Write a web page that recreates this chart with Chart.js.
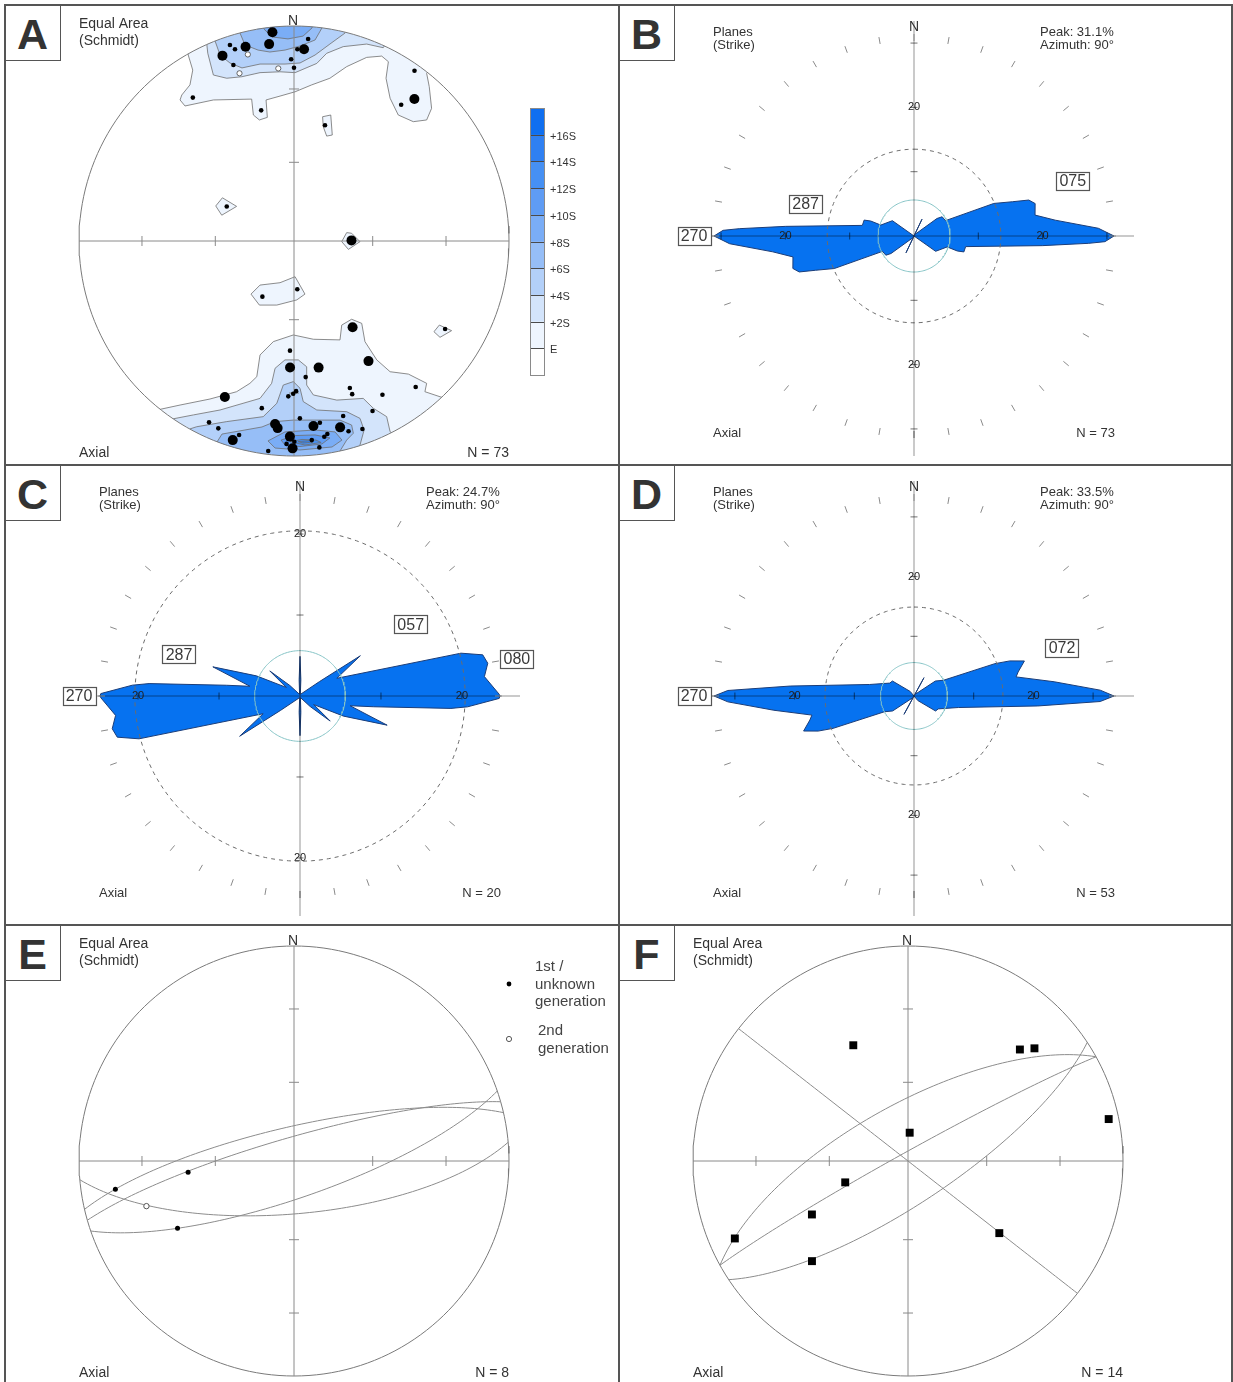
<!DOCTYPE html>
<html>
<head>
<meta charset="utf-8">
<title>Stereonets and rose diagrams</title>
<script src="https://cdn.jsdelivr.net/npm/chart.js@4.4.1/dist/chart.umd.min.js"></script>
<style>
  html, body { margin: 0; padding: 0; background: #fff; }
  #fig { position: relative; width: 1233px; height: 1382px; overflow: hidden; background: #fff; }
  .pane { position: absolute; width: 614px; height: 460px; }
  .pane canvas { position: absolute; left: 0; top: 0; }
  .tag { position: absolute; left: 0; top: 0; width: 55px; height: 55px;
         border-right: 1.5px solid #555; border-bottom: 1.5px solid #555; background: #fff;
         color: #333; font: bold 43px "Liberation Sans", Arial, sans-serif; text-align: center; line-height: 58px; }
  .rule { position: absolute; background: #555; }
</style>
</head>
<body>
<div id="fig">
  <div class="pane" style="left:5px;top:5px"><canvas id="cA" width="614" height="460"></canvas><div class="tag">A</div></div>
  <div class="pane" style="left:619px;top:5px"><canvas id="cB" width="614" height="460"></canvas><div class="tag">B</div></div>
  <div class="pane" style="left:5px;top:465px"><canvas id="cC" width="614" height="460"></canvas><div class="tag">C</div></div>
  <div class="pane" style="left:619px;top:465px"><canvas id="cD" width="614" height="460"></canvas><div class="tag">D</div></div>
  <div class="pane" style="left:5px;top:925px"><canvas id="cE" width="614" height="460"></canvas><div class="tag">E</div></div>
  <div class="pane" style="left:619px;top:925px"><canvas id="cF" width="614" height="460"></canvas><div class="tag">F</div></div>
  <div class="rule" style="left:4px;top:4px;width:1229px;height:1.5px"></div>
  <div class="rule" style="left:4px;top:464px;width:1229px;height:1.5px"></div>
  <div class="rule" style="left:4px;top:924px;width:1229px;height:1.5px"></div>
  <div class="rule" style="left:4px;top:4px;width:1.5px;height:1380px"></div>
  <div class="rule" style="left:618px;top:4px;width:1.5px;height:1380px"></div>
  <div class="rule" style="left:1231px;top:4px;width:1.5px;height:1380px"></div>
</div>
<script>
// ================= data =================

// Panel A - poles (trend / plunge in degrees, lower hemisphere)
const poleTrendA = [354.1, 352.8, 341.9, 342.9, 346.0, 338.9, 341.0, 3.0, 4.0, 1.0, 359.1, 0.0, 35.3, 40.3, 38.2, 324.8, 345.9, 15.0,
  297.2, 89.4, 209.6, 176.1, 120.2,
  145.8, 182.1, 148.2, 181.8, 169.0, 175.1, 140.2, 159.2, 159.2, 150.1, 203.9, 179.2, 180.3, 182.1, 190.9, 155.2, 205.1, 202.0, 178.1, 185.9,
  185.0, 174.0, 171.9, 164.3, 166.1, 164.0, 160.0, 181.2, 180.4, 182.1, 179.9, 174.9, 171.2, 170.2, 197.1, 195.8, 187.0, 173.0];
const polePlungeA = [2.7, 8.5, 4.6, 7.4, 7.6, 8.4, 14.5, 11.7, 6.5, 11.8, 16.6, 20.5, 3.4, 14.5, 20.5, 19.5, 37.4, 43.6,
  61.2, 68.2, 65.7, 71.7, 19.8,
  49.9, 47.7, 34.6, 40.8, 39.8, 36.6, 12.6, 27.7, 24.8, 18.6, 21.7, 30.8, 29.7, 28.5, 21.9, 14.0, 7.6, 6.7, 18.6, 15.5,
  13.7, 14.6, 15.7, 16.6, 11.7, 8.8, 7.7, 9.9, 4.0, 6.2, 7.4, 7.8, 8.7, 9.8, 3.5, 6.9, 1.8, 3.7];
// 1 = single measurement, 2 = coincident group
const poleGroupA = [2, 2, 1, 1, 2, 2, 1, 2, 1, 1, 1, 1, 1, 2, 1, 1, 1, 1,
  1, 2, 1, 1, 1,
  2, 1, 2, 2, 2, 1, 1, 1, 1, 1, 2, 1, 1, 1, 1, 1, 1, 1, 1, 2,
  2, 2, 1, 1, 2, 1, 1, 2, 2, 1, 1, 1, 1, 1, 2, 1, 1, 1];
const pole2TrendA = [342.0, 346.1, 354.8];
const pole2PlungeA = [19.1, 11.6, 20.5];
const countA = 73;

// Panel A - density levels (multiples of S above expected E) and contour rings
const densityLabels = ['E', '+2S', '+4S', '+6S', '+8S', '+10S', '+12S', '+14S', '+16S'];
const bandColors = ['#eef5fe', '#d3e4fb', '#b3d0f9', '#96bef7', '#7aadf6', '#5f9cf4', '#4690f3', '#2f80f2', '#0f6ff0'];
// [level index, flat list of x,y in projection units (primitive radius = 1)]
const ringsA = [
  [0, [-0.507,0.935, -0.492,0.865, -0.471,0.795, -0.484,0.726, -0.522,0.679, -0.530,0.656, -0.507,0.628, -0.375,0.656, -0.197,0.660,
       -0.189,0.586, -0.161,0.563, -0.124,0.575, -0.130,0.656, -0.065,0.674, 0.005,0.694, 0.082,0.726, 0.167,0.757, 0.245,0.811,
       0.338,0.854, 0.408,0.860, 0.439,0.834, 0.428,0.757, 0.447,0.664, 0.485,0.586, 0.555,0.555, 0.617,0.563, 0.640,0.617,
       0.629,0.718, 0.617,0.780, 0.679,0.865, 0,1.09]],
  [1, [-0.437,0.958, -0.406,0.919, -0.401,0.873, -0.375,0.772, -0.313,0.757, -0.243,0.764, -0.158,0.783, -0.065,0.787, 0.005,0.783,
       0.106,0.826, 0.152,0.873, 0.229,0.904, 0.338,0.916, 0.415,0.899, 0.470,0.981, 0,1.074]],
  [2, [-0.381,0.981, -0.367,0.930, -0.344,0.865, -0.298,0.828, -0.242,0.805, -0.158,0.823, -0.042,0.823, 0.028,0.828, 0.098,0.865,
       0.167,0.916, 0.237,0.967, 0.26,1.05, 0,1.09]],
  [3, [-0.26,1.03, -0.251,0.967, -0.228,0.912, -0.167,0.888, -0.112,0.879, -0.042,0.888, 0.028,0.907, 0.098,0.935, 0.130,0.991, 0.14,1.06, 0,1.09]],
  [4, [-0.149,1.03, -0.140,0.986, -0.102,0.949, -0.028,0.940, 0.042,0.953, 0.084,0.991, 0.09,1.05, 0,1.08]],
  [0, [0.133,0.578, 0.171,0.586, 0.178,0.493, 0.152,0.488, 0.136,0.532]],
  [0, [-0.364,0.163, -0.333,0.201, -0.267,0.161, -0.336,0.120]],
  [0, [0.222,-0.003, 0.245,0.039, 0.268,0.036, 0.307,-0.003, 0.253,-0.039]],
  [0, [-0.200,-0.247, -0.158,-0.205, -0.065,-0.194, 0.005,-0.166, 0.051,-0.247, 0.013,-0.274, -0.080,-0.298, -0.161,-0.298]],
  [0, [0.651,-0.422, 0.676,-0.391, 0.733,-0.417, 0.679,-0.448]],
  [0, [-0.716,-0.740, -0.623,-0.783, -0.530,-0.763, -0.391,-0.735, -0.267,-0.701, -0.205,-0.662, -0.173,-0.631, -0.158,-0.530,
       -0.096,-0.468, -0.003,-0.437, 0.090,-0.457, 0.214,-0.460, 0.222,-0.391, 0.268,-0.364, 0.315,-0.383, 0.330,-0.468,
       0.385,-0.553, 0.447,-0.608, 0.532,-0.619, 0.617,-0.662, 0.609,-0.701, 0.726,-0.740, 0.726,-1.03, -0.716,-1.03]],
  [1, [-0.600,-0.888, -0.567,-0.828, -0.468,-0.809, -0.344,-0.786, -0.158,-0.732, -0.104,-0.662, -0.088,-0.592, -0.042,-0.553,
       0.020,-0.553, 0.059,-0.585, 0.059,-0.670, 0.090,-0.716, 0.199,-0.740, 0.322,-0.732, 0.369,-0.778, 0.431,-0.817,
       0.447,-0.887, 0.493,-0.926, 0,-1.03, -0.6,-1.0]],
  [2, [-0.507,-0.949, -0.484,-0.874, -0.453,-0.864, -0.313,-0.840, -0.143,-0.817, -0.080,-0.755, -0.050,-0.670, -0.003,-0.654,
       0.028,-0.685, 0.043,-0.747, 0.106,-0.786, 0.245,-0.794, 0.307,-0.825, 0.326,-0.879, 0.307,-0.949, 0.307,-1.03, -0.507,-1.03]],
  [3, [-0.367,-0.972, -0.358,-0.935, -0.335,-0.898, -0.149,-0.865, -0.088,-0.840, -0.003,-0.833, 0.106,-0.833, 0.214,-0.833,
       0.268,-0.856, 0.276,-0.894, 0.245,-0.926, 0.214,-0.977, 0.214,-1.03, -0.367,-1.03]],
  [4, [-0.121,-0.930, -0.042,-0.888, 0.098,-0.879, 0.191,-0.888, 0.223,-0.926, 0.177,-0.958, 0.028,-0.972, -0.088,-0.963]],
  [5, [-0.060,-0.926, 0.005,-0.905, 0.098,-0.902, 0.167,-0.916, 0.130,-0.944, 0.028,-0.956, -0.042,-0.949]],
  [6, [-0.019,-0.933, 0.037,-0.923, 0.102,-0.926, 0.126,-0.937, 0.051,-0.949]],
  [7, [0.019,-0.933, 0.074,-0.928, 0.088,-0.935, 0.042,-0.940]]
];

// Panels B-D - strike roses (outline for 0-180 deg; axial data repeats at +180)
const roseAzB  = [0, 24, 25.5, 27, 52.7, 55.7, 64, 67.8, 70.8, 72.6, 75, 80.2, 83.6, 87.6, 90, 91.7, 92.4, 94.3, 101.6, 107.7, 109.1, 108.2, 125.3, 180];
const rosePctB = [0, 0.25, 2.9, 0.25, 4.5, 5.3, 5.45, 13.4, 16.2, 18.7, 19.5, 19.1, 22.1, 28.7, 31.1, 29.7, 27.2, 20.0, 8.2, 8.14, 7.11, 5.44, 4.12, 0];
const peakB = 31.1, peakAzB = 90, countB = 73, refPctB = 5.6, dashPctB = 13.5;
const tagTextB = ['270', '287', '075'];

const roseAzC  = [0, 3, 12, 53.5, 56.3, 64.3, 75.1, 77.3, 80.1, 84, 89.5, 90, 90.7, 93.7, 94.7, 98.3, 101, 108.5, 114.8, 122, 129.7, 136, 165, 177];
const rosePctC = [4.9, 2.0, 0.2, 3.0, 8.96, 5.05, 20.57, 23.13, 23.54, 22.9, 24.6, 24.7, 24.6, 20.74, 18.7, 9.2, 6.3, 11.35, 5.93, 2.0, 4.85, 1.8, 0.2, 2.0];
const peakC = 24.7, peakAzC = 90, countC = 20, refPctC = 5.6, dashPctC = 20.4;
const tagTextC = ['270', '287', '057', '080'];

const roseAzD  = [0, 27, 28.6, 30.5, 55, 61.9, 68.2, 69.9, 72.4, 77, 79.4, 84.2, 88.2, 90, 91.7, 94.6, 104.5, 118, 124.8, 140, 180];
const rosePctD = [0, 0.3, 3.5, 0.3, 4.37, 5.6, 14.6, 17.1, 19.4, 17.9, 17.4, 23.6, 31.2, 33.5, 31.2, 20.8, 7.7, 4.6, 4.4, 1.0, 0];
const peakD = 33.5, peakAzD = 90, countD = 53, refPctD = 5.6, dashPctD = 14.9;
const tagTextD = ['270', '072'];

// Panel E - planes (dip direction / dip) and lineations (trend / plunge)
const planeDipDirE = [347, 344, 175, 161];
const planeDipE = [77, 81, 70, 76];
const lin1TrendE = [261, 264, 240];
const lin1PlungeE = [17, 49, 37.5];
const lin2TrendE = [253];
const lin2PlungeE = [29];
const countE = 8;

// Panel F - planes and lineations
const planeDipDirF = [38, 331, 331, 146.5];
const planeDipF = [90, 86.7, 68.6, 74];
const linTrendF = [334.7, 45.1, 48.3, 78.2, 3.4, 251.2, 240.9, 245.9, 223.8, 128.3];
const linPlungeF = [40.2, 27.4, 22.3, 5.2, 79.3, 64.8, 47.6, 12.8, 35.7, 45];
const countF = 14;

// ================= layout =================
const FAM = '"Liberation Sans", Arial, Helvetica, sans-serif';
const font = (s, b) => (b ? 'bold ' : '') + s + 'px ' + FAM;
const NET = { cx: 289, cy: 236, px: 215 };      // stereonet centre / primitive radius (canvas px)
const ROSE = { cx: 295, cy: 231, ring: 200 };   // rose centre / radius of the peak (canvas px)
const tagPlaceB = [[270, 220], [286.5, 113], [70.9, 168]];
const tagPlaceC = [[270, 221], [289, 128], [57, 132], [80.3, 220]];
const tagPlaceD = [[270, 220], [72, 155.6]];
const colorbarA = { left: 525, top: 103, width: 14, height: 267 };

// ================= geometry helpers =================
const D2R = Math.PI / 180;
function project(trend, plunge) {           // Schmidt equal-area, lower hemisphere
  const r = Math.SQRT2 * Math.sin((90 - plunge) / 2 * D2R);
  return { x: r * Math.sin(trend * D2R), y: r * Math.cos(trend * D2R) };
}
function greatCircle(dipDir, dip) {
  const sE = Math.sin((dipDir - 90) * D2R), sN = Math.cos((dipDir - 90) * D2R);
  const cd = Math.cos(dip * D2R), sd = Math.sin(dip * D2R);
  const dE = cd * Math.sin(dipDir * D2R), dN = cd * Math.cos(dipDir * D2R);
  const pts = [];
  for (let a = 0; a <= 180; a += 2) {
    const ca = Math.cos(a * D2R), sa = Math.sin(a * D2R);
    const vE = ca * sE + sa * dE, vN = ca * sN + sa * dN, vD = sa * sd;
    pts.push(project(Math.atan2(vE, vN) / D2R, Math.asin(Math.min(1, vD)) / D2R));
  }
  return pts;
}
const polar = (az, r) => ({ x: r * Math.sin(az * D2R), y: r * Math.cos(az * D2R) });
function circlePts(r) { const p = []; for (let a = 0; a <= 360; a += 2) p.push(polar(a, r)); return p; }
function flatPts(f) { const p = []; for (let i = 0; i < f.length; i += 2) p.push({ x: f[i], y: f[i + 1] }); return p; }
const GAP = { x: 0, y: null };

function lineDs(pts, color, width, dash) {
  return { data: pts, borderColor: color, borderWidth: width, borderDash: dash || [], pointRadius: 0, fill: false, showLine: true };
}
function polyDs(pts, fillColor, stroke, width, clipNet) {
  return { data: pts, showLine: false, pointRadius: 0, polyFill: fillColor, polyStroke: stroke, polyWidth: width, clipNet: clipNet };
}
function markDs(trends, plunges, radius, extra) {
  return Object.assign({
    data: trends.map((t, i) => project(t, plunges[i])), showLine: false,
    pointRadius: radius, pointHoverRadius: radius, pointBackgroundColor: '#000', pointBorderColor: '#000', pointBorderWidth: 0
  }, extra || {});
}

// ================= plugins =================
const polyFillPlugin = {
  id: 'polyFill',
  beforeDatasetsDraw(chart) {
    const ctx = chart.ctx, ds = chart.data.datasets, sx = chart.scales.x, sy = chart.scales.y;
    for (let i = ds.length - 1; i >= 0; i--) {
      const d = ds[i];
      if (!d.polyFill) continue;
      const pts = chart.getDatasetMeta(i).data;
      ctx.save();
      if (d.clipNet) {
        const cx = sx.getPixelForValue(0), cy = sy.getPixelForValue(0);
        ctx.beginPath();
        ctx.arc(cx, cy, sx.getPixelForValue(1) - cx, 0, Math.PI * 2);
        ctx.clip();
      }
      ctx.beginPath();
      pts.forEach((p, j) => (j ? ctx.lineTo(p.x, p.y) : ctx.moveTo(p.x, p.y)));
      ctx.closePath();
      ctx.fillStyle = d.polyFill;
      ctx.fill();
      if (d.polyStroke) {
        ctx.lineJoin = 'round';
        ctx.lineWidth = d.polyWidth;
        ctx.strokeStyle = d.polyStroke;
        ctx.stroke();
      }
      ctx.restore();
    }
  }
};

function labelPlugin(items) {
  const draw = (chart, under) => {
    const ctx = chart.ctx, sx = chart.scales.x, sy = chart.scales.y;
    items.forEach(it => {
      if (!!it.under !== under) return;
      ctx.save();
      if (it.fn) { it.fn(ctx); ctx.restore(); return; }
      let x = it.x, y = it.y;
      if (it.data) { x = sx.getPixelForValue(it.x); y = sy.getPixelForValue(it.y); }
      ctx.font = it.font || font(13);
      ctx.textAlign = it.align || 'left';
      ctx.textBaseline = it.base || 'alphabetic';
      if (it.box) {
        const w = Math.round(ctx.measureText(it.text).width + 6), h = 18;
        const bx = Math.round(x - w / 2) + 0.5, by = Math.round(y - h / 2) + 0.5;
        ctx.fillStyle = '#fff';
        ctx.fillRect(bx, by, w, h);
        ctx.strokeStyle = '#555';
        ctx.lineWidth = 1.2;
        ctx.strokeRect(bx, by, w, h);
        ctx.textAlign = 'center';
        ctx.textBaseline = 'middle';
        ctx.fillStyle = '#3a3a3a';
        ctx.fillText(it.text, x, y + 1);
      } else {
        ctx.fillStyle = it.color || '#333';
        ctx.fillText(it.text, x, y);
      }
      ctx.restore();
    });
  };
  return { id: 'labels', beforeDatasetsDraw(c) { draw(c, true); }, afterDatasetsDraw(c) { draw(c, false); } };
}

function build(id, cx, cy, ppu, layers, items) {
  const cv = document.getElementById(id);
  const W = cv.width, H = cv.height;
  return new Chart(cv, {
    type: 'line',
    data: { datasets: layers.slice().reverse() },   // first listed = drawn first (bottom)
    options: {
      responsive: false, animation: false, events: [],
      layout: { padding: 0, autoPadding: false },
      scales: {
        x: { type: 'linear', display: false, bounds: 'data', min: -cx / ppu, max: (W - cx) / ppu },
        y: { type: 'linear', display: false, bounds: 'data', min: -(H - cy) / ppu, max: cy / ppu }
      },
      plugins: { legend: { display: false }, tooltip: { enabled: false } },
      elements: { point: { radius: 0, hoverRadius: 0 }, line: { tension: 0 } }
    },
    plugins: [polyFillPlugin, labelPlugin(items)]
  });
}

// ================= stereonet =================
function netLayers(o) {
  const L = [];
  (o.rings || []).forEach(([lev, flat]) => L.push(polyDs(flatPts(flat), bandColors[lev], '#6e6e6e', 0.8, true)));
  L.push(lineDs(circlePts(1), '#7a7a7a', 1));
  L.push(lineDs([{ x: -1, y: 0 }, { x: 1, y: 0 }, GAP, { x: 0, y: -1 }, { x: 0, y: 1 }], '#8a8a8a', 1));
  const h = 5 / NET.px, tk = [];
  [30, 60].forEach(p => {
    const r = project(0, p).y;
    tk.push({ x: r, y: -h }, { x: r, y: h }, GAP, { x: -r, y: -h }, { x: -r, y: h }, GAP,
            { x: -h, y: r }, { x: h, y: r }, GAP, { x: -h, y: -r }, { x: h, y: -r }, GAP);
  });
  L.push(lineDs(tk, '#8a8a8a', 1));
  (o.planes || []).forEach(([dd, dip]) => L.push(lineDs(greatCircle(dd, dip), '#8c8c8c', 1)));
  (o.marks || []).forEach(m => L.push(m));
  return L;
}
function netTexts(n) {
  return [
    { text: 'Equal Area', x: 74, y: 23, font: font(14) },
    { text: '(Schmidt)', x: 74, y: 40, font: font(14) },
    { text: 'N', x: 288, y: 20, align: 'center', font: font(14) },
    { text: 'Axial', x: 74, y: 452, font: font(14) },
    { text: 'N = ' + n, x: 504, y: 452, align: 'right', font: font(14) }
  ];
}

// Panel A
const textsA = netTexts(countA).concat([{ fn(ctx) {
  const b = colorbarA, n = densityLabels.length + 1, seg = b.height / n;
  const cols = bandColors.slice().reverse().concat(['#ffffff']);
  const labs = densityLabels.slice().reverse();
  for (let i = 0; i < n; i++) { ctx.fillStyle = cols[i]; ctx.fillRect(b.left, b.top + i * seg, b.width, seg + 0.5); }
  ctx.strokeStyle = '#4a4a4a'; ctx.lineWidth = 1;
  ctx.font = font(11); ctx.fillStyle = '#333'; ctx.textBaseline = 'middle';
  for (let i = 1; i < n; i++) {
    const y = Math.round(b.top + i * seg) + 0.5;
    ctx.beginPath(); ctx.moveTo(b.left, y); ctx.lineTo(b.left + b.width, y); ctx.stroke();
    ctx.fillText(labs[i - 1], b.left + b.width + 6, y + 1);
  }
  ctx.strokeStyle = '#8a8a8a';
  ctx.strokeRect(b.left + 0.5, b.top + 0.5, b.width, b.height);
} }]);
build('cA', NET.cx, NET.cy, NET.px, netLayers({
  rings: ringsA,
  marks: [
    markDs(poleTrendA, polePlungeA, poleGroupA.map(g => (g === 2 ? 5 : 2.3))),
    markDs(pole2TrendA, pole2PlungeA, 2.6, { pointBackgroundColor: '#fff', pointBorderColor: '#444', pointBorderWidth: 0.8 })
  ]
}), textsA);

// Panel E
const textsE = netTexts(countE).concat([
  { text: '1st /', x: 530, y: 46, font: font(15), color: '#444' },
  { text: 'unknown', x: 530, y: 64, font: font(15), color: '#444' },
  { text: 'generation', x: 530, y: 81, font: font(15), color: '#444' },
  { text: '2nd', x: 533, y: 110, font: font(15), color: '#444' },
  { text: 'generation', x: 533, y: 128, font: font(15), color: '#444' },
  { fn(ctx) {
    ctx.fillStyle = '#000'; ctx.beginPath(); ctx.arc(504, 59, 2.4, 0, Math.PI * 2); ctx.fill();
    ctx.strokeStyle = '#444'; ctx.lineWidth = 0.9; ctx.beginPath(); ctx.arc(504, 114, 2.6, 0, Math.PI * 2); ctx.stroke();
  } }
]);
build('cE', NET.cx, NET.cy, NET.px, netLayers({
  planes: planeDipDirE.map((d, i) => [d, planeDipE[i]]),
  marks: [
    markDs(lin1TrendE, lin1PlungeE, 2.5),
    markDs(lin2TrendE, lin2PlungeE, 2.7, { pointBackgroundColor: '#fff', pointBorderColor: '#444', pointBorderWidth: 0.9 })
  ]
}), textsE);

// Panel F
build('cF', NET.cx, NET.cy, NET.px, netLayers({
  planes: planeDipDirF.map((d, i) => [d, planeDipF[i]]),
  marks: [markDs(linTrendF, linPlungeF, 5.6, { pointStyle: 'rect' })]
}), netTexts(countF));

// ================= roses =================
function rose(id, az, pct, peak, peakAz, n, refPct, dashPct, tags, places) {
  const ppu = ROSE.ring / peak;
  const L = [];
  const outline = [];
  [0, 180].forEach(off => az.forEach((a, i) => outline.push(polar(a + off, pct[i]))));
  L.push(polyDs(outline, '#0672f0', '#1b3d78', 1, false));
  L.push(lineDs(circlePts(dashPct), '#6c6c6c', 1, [4, 4]));
  L.push(lineDs(circlePts(refPct), '#86c4c6', 1));
  const ax = 220 / ppu, axTop = 215 / ppu;
  L.push(lineDs([{ x: -ax, y: 0 }, { x: ax, y: 0 }, GAP, { x: 0, y: -ax }, { x: 0, y: axTop }], 'rgba(0,0,0,0.42)', 1));
  const h = 3.5 / ppu, tk = [];
  for (let v = 10; v * ppu < 212; v += 10) {
    tk.push({ x: v, y: -h }, { x: v, y: h }, GAP, { x: -v, y: -h }, { x: -v, y: h }, GAP,
            { x: -h, y: v }, { x: h, y: v }, GAP, { x: -h, y: -v }, { x: h, y: -v }, GAP);
  }
  L.push(lineDs(tk, 'rgba(0,0,0,0.55)', 1));
  const ring = [];
  for (let a = 0; a < 360; a += 10) ring.push(polar(a, 195 / ppu), polar(a, 202 / ppu), GAP);
  L.push(lineDs(ring, '#8a8a8a', 1));

  const T = [
    { text: 'Planes', x: 94, y: 31 }, { text: '(Strike)', x: 94, y: 44 },
    { text: 'Peak: ' + peak + '%', x: 421, y: 31 }, { text: 'Azimuth: ' + peakAz + '\u00B0', x: 421, y: 44 },
    { text: 'N', x: ROSE.cx, y: 26, align: 'center', font: font(14) },
    { text: 'Axial', x: 94, y: 432 }, { text: 'N = ' + n, x: 496, y: 432, align: 'right' }
  ];
  [[20, 0], [-20, 0], [0, 20], [0, -20]].forEach(([x, y]) =>
    T.push({ text: '20', x, y, data: true, under: true, align: 'center', base: 'middle', font: font(11), color: '#222' }));
  tags.forEach((t, i) => {
    const [a, r] = places[i];
    T.push({ text: t, box: true, font: font(16), x: ROSE.cx + r * Math.sin(a * D2R), y: ROSE.cy - r * Math.cos(a * D2R) });
  });
  build(id, ROSE.cx, ROSE.cy, ppu, L, T);
}
rose('cB', roseAzB, rosePctB, peakB, peakAzB, countB, refPctB, dashPctB, tagTextB, tagPlaceB);
rose('cC', roseAzC, rosePctC, peakC, peakAzC, countC, refPctC, dashPctC, tagTextC, tagPlaceC);
rose('cD', roseAzD, rosePctD, peakD, peakAzD, countD, refPctD, dashPctD, tagTextD, tagPlaceD);
</script>
</body>
</html>
